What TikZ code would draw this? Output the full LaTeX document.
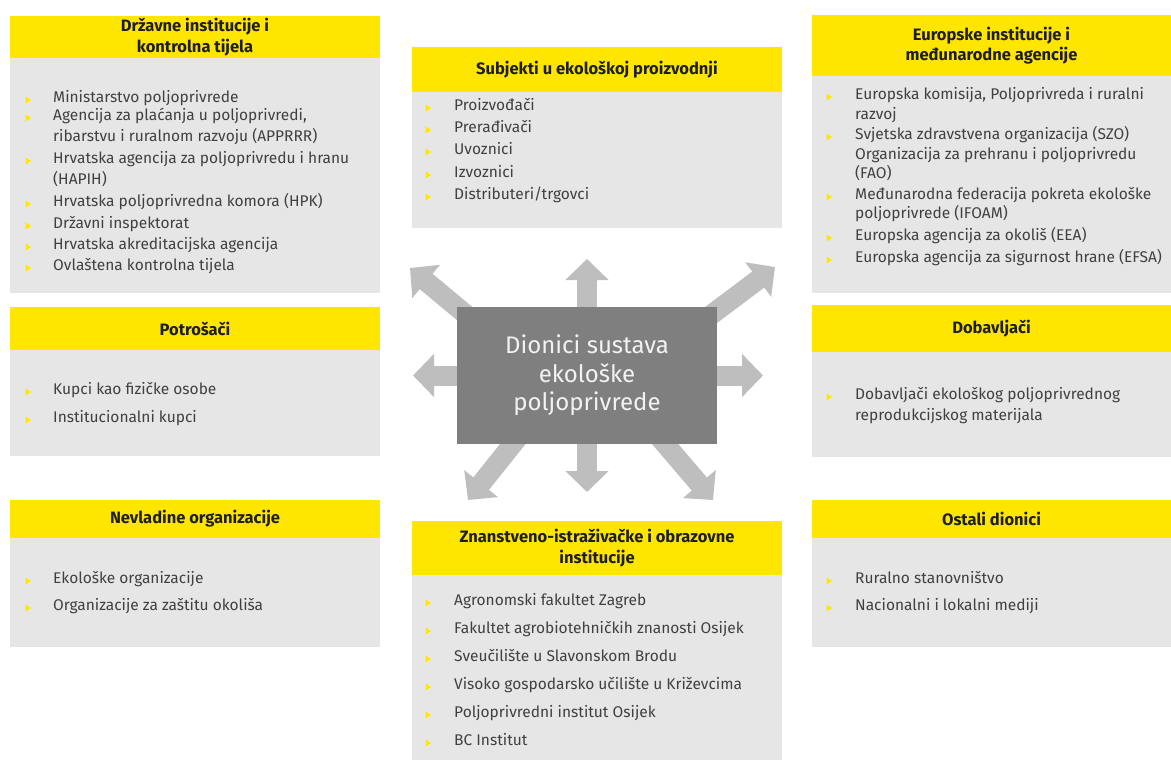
\documentclass[tikz,border=0pt]{standalone}
\usepackage{fontspec}
\setmainfont{Fira Sans}
\usetikzlibrary{arrows.meta,backgrounds}
\definecolor{eyy}{HTML}{FFE600}
\definecolor{bodyg}{HTML}{E6E6E6}
\definecolor{arrg}{HTML}{BEBEBE}
\definecolor{ctrg}{HTML}{7F7F7F}
\definecolor{txtg}{HTML}{404040}
\definecolor{hdrk}{HTML}{1E1E1E}
\newcommand\mkbox[7]{%
  \node[hdrbox, minimum width={#4-#2}, minimum height={#5-#3}] (#1h) at ({(#2+#4)/2},{(#3+#5)/2}) {#7};
  \node[bodybox, minimum width={#4-#2}, minimum height={#6-#5}] (#1b) at ({(#2+#4)/2},{(#5+#6)/2}) {};
}
\newcommand\bul[2]{\fill[eyy] ({#1-2.5},{#2-3.4}) -- ({#1+3.2},{#2}) -- ({#1-2.5},{#2+3.4}) -- cycle;}
\begin{document}
\begin{tikzpicture}[x=1pt,y=-1pt,
  hdrbox/.style={fill=eyy, inner sep=0pt, outer sep=0pt, align=center, text=hdrk,
    font=\fontsize{16.5}{20.5}\selectfont\bfseries},
  bodybox/.style={fill=bodyg, inner sep=0pt, outer sep=0pt},
  itxt/.style={anchor=mid west, inner sep=0pt, text=txtg, font=\fontsize{15.5}{17}\selectfont},
  ctr/.style={fill=ctrg, inner sep=0pt, minimum width=260pt, minimum height=137pt, align=center,
    text=white!95!black, font=\fontsize{24}{28.5}\selectfont},
  bigarr/.style={draw=arrg, line width=20pt, -{Triangle[width=42pt,length=21pt]}}]
\useasboundingbox (0,0) rectangle (1171,760);

% boxes
\mkbox{tl}{10}{16}{380}{58}{293}{Državne institucije i\\kontrolna tijela}
\mkbox{tc}{412}{47}{782}{92}{228}{Subjekti u ekološkoj proizvodnji}
\mkbox{tr}{812}{15}{1171}{76}{293}{Europske institucije i\\međunarodne agencije}
\mkbox{ml}{10}{307}{380}{350}{456}{Potrošači}
\mkbox{mr}{812}{305}{1171}{352}{457}{Dobavljači}
\mkbox{bl}{10}{500}{380}{538}{647}{Nevladine organizacije}
\mkbox{bc}{412}{521}{782}{575}{760}{Znanstveno-istraživačke i obrazovne\\institucije}
\mkbox{br}{812}{500}{1171}{538}{647}{Ostali dionici}

% centre
\node[ctr] (c) at (587,375.5) {Dionici sustava\\ekološke\\poljoprivrede};
\coordinate (tU) at (587,259);
\coordinate (tD) at (587,492);
\coordinate (tL) at (413,375.5);
\coordinate (tR) at (763,375.5);
\coordinate (sUL) at (500,343);
\coordinate (tUL) at (410,268);
\coordinate (sUR) at (695,327);
\coordinate (tUR) at (775,267);
\coordinate (sDL) at (540,410);
\coordinate (tDL) at (468,500);
\coordinate (sDR) at (636,410);
\coordinate (tDR) at (713,500);
\begin{pgfonlayer}{background}
\fill[white] (0,0) rectangle (1171,760);
\draw[bigarr] (c.center) -- (tU);
\draw[bigarr] (c.center) -- (tD);
\draw[bigarr] (c.center) -- (tL);
\draw[bigarr] (c.center) -- (tR);
\draw[bigarr] (sUL) -- (tUL);
\draw[bigarr] (sUR) -- (tUR);
\draw[bigarr] (sDL) -- (tDL);
\draw[bigarr] (sDR) -- (tDR);
\end{pgfonlayer}

% top-left items
\bul{28}{100}\node[itxt] (tl1) at (53,100) {Ministarstvo poljoprivrede};
\bul{28}{118}\node[itxt] (tl2) at (53,118) {Agencija za plaćanja u poljoprivredi,};
\node[itxt] (tl2b) at (53,139) {ribarstvu i ruralnom razvoju (APPRRR)};
\bul{28}{161}\node[itxt] (tl3) at (53,161) {Hrvatska agencija za poljoprivredu i hranu};
\node[itxt] (tl3b) at (53,182) {(HAPIH)};
\bul{28}{204}\node[itxt] (tl4) at (53,204) {Hrvatska poljoprivredna komora (HPK)};
\bul{28}{226}\node[itxt] (tl5) at (53,226) {Državni inspektorat};
\bul{28}{247}\node[itxt] (tl6) at (53,247) {Hrvatska akreditacijska agencija};
\bul{28}{268}\node[itxt] (tl7) at (53,268) {Ovlaštena kontrolna tijela};

% top-centre items
\bul{428}{108}\node[itxt] (tc1) at (454,108) {Proizvođači};
\bul{428}{130}\node[itxt] (tc2) at (454,130) {Prerađivači};
\bul{428}{152}\node[itxt] (tc3) at (454,152) {Uvoznici};
\bul{428}{175}\node[itxt] (tc4) at (454,175) {Izvoznici};
\bul{428}{197}\node[itxt] (tc5) at (454,197) {Distributeri/trgovci};

% top-right items
\bul{829}{97}\node[itxt] (tr1) at (855,97) {Europska komisija, Poljoprivreda i ruralni};
\node[itxt] (tr1b) at (855,117) {razvoj};
\bul{829}{137}\node[itxt] (tr2) at (855,137) {Svjetska zdravstvena organizacija (SZO)};
\node[itxt] (tr2b) at (855,157) {Organizacija za prehranu i poljoprivredu};
\node[itxt] (tr2c) at (855,176) {(FAO)};
\bul{829}{197}\node[itxt] (tr3) at (855,197) {Međunarodna federacija pokreta ekološke};
\node[itxt] (tr3b) at (855,216) {poljoprivrede (IFOAM)};
\bul{829}{238}\node[itxt] (tr4) at (855,238) {Europska agencija za okoliš (EEA)};
\bul{829}{260}\node[itxt] (tr5) at (855,260) {Europska agencija za sigurnost hrane (EFSA)};

% middle rows
\bul{28}{392}\node[itxt] (ml1) at (53,392) {Kupci kao fizičke osobe};
\bul{28}{420}\node[itxt] (ml2) at (53,420) {Institucionalni kupci};
\bul{829}{397}\node[itxt] (mr1) at (855,397) {Dobavljači ekološkog poljoprivrednog};
\node[itxt] (mr1b) at (855,418) {reprodukcijskog materijala};

% bottom rows
\bul{28}{581}\node[itxt] (bl1) at (53,581) {Ekološke organizacije};
\bul{28}{608}\node[itxt] (bl2) at (53,608) {Organizacije za zaštitu okoliša};
\bul{829}{581}\node[itxt] (br1) at (855,581) {Ruralno stanovništvo};
\bul{829}{608}\node[itxt] (br2) at (855,608) {Nacionalni i lokalni mediji};

\bul{428}{603}\node[itxt] (bc1) at (454,603) {Agronomski fakultet Zagreb};
\bul{428}{631}\node[itxt] (bc2) at (454,631) {Fakultet agrobiotehničkih znanosti Osijek};
\bul{428}{659}\node[itxt] (bc3) at (454,659) {Sveučilište u Slavonskom Brodu};
\bul{428}{687}\node[itxt] (bc4) at (454,687) {Visoko gospodarsko učilište u Križevcima};
\bul{428}{715}\node[itxt] (bc5) at (454,715) {Poljoprivredni institut Osijek};
\bul{428}{743}\node[itxt] (bc6) at (454,743) {BC Institut};
\end{tikzpicture}
\end{document}
